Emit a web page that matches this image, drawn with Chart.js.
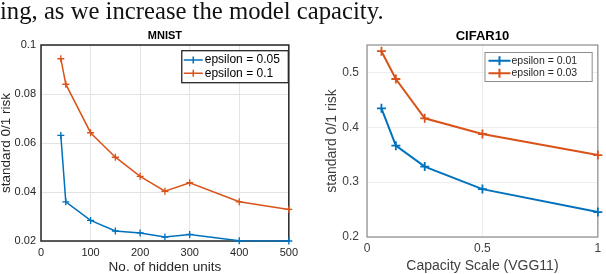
<!DOCTYPE html>
<html>
<head>
<meta charset="utf-8">
<script src="https://cdn.jsdelivr.net/npm/chart.js@4.4.1/dist/chart.umd.min.js"></script>
<style>
  html, body { margin: 0; padding: 0; background: #fff; }
  #page { position: relative; width: 606px; height: 274px; overflow: hidden; }
  #caption { position: absolute; left: 0; top: -1.5px; font-family: "Liberation Serif", "DejaVu Serif", serif;
             font-size: 24.7px; line-height: 24.7px; color: #111; white-space: nowrap; }
  canvas { position: absolute; top: 0; }
  #mnist { left: 0; }
  #cifar { left: 303px; }
</style>
</head>
<body>
<div id="page">
  <canvas id="mnist" width="303" height="274"></canvas>
  <canvas id="cifar" width="303" height="274"></canvas>
  <div id="caption">ing, as we increase the model capacity.</div>
</div>
<script>
// ---- MNIST panel ----
const mnistUnits = [40, 50, 100, 150, 200, 250, 300, 400, 500];
const mnistEps005 = [0.0631, 0.0360, 0.0284, 0.0241, 0.0233, 0.0216, 0.0227, 0.0201, 0.0200];
const mnistEps01 = [0.0944, 0.0840, 0.0642, 0.0542, 0.0464, 0.0403, 0.0438, 0.0360, 0.0329];
const mnistXTicks = [0, 100, 200, 300, 400, 500];
const mnistXLabels = ['0', '100', '200', '300', '400', '500'];
const mnistYTicks = [0.02, 0.04, 0.06, 0.08, 0.1];
const mnistYLabels = ['0.02', '0.04', '0.06', '0.08', '0.1'];

// ---- CIFAR10 panel ----
const cifarScale = [0.0625, 0.125, 0.25, 0.5, 1];
const cifarEps001 = [0.4345, 0.3665, 0.3284, 0.2873, 0.2455];
const cifarEps003 = [0.5387, 0.4880, 0.4164, 0.3878, 0.3494];
const cifarXTicks = [0, 0.5, 1];
const cifarXLabels = ['0', '0.5', '1'];
const cifarYTicks = [0.2, 0.3, 0.4, 0.5];
const cifarYLabels = ['0.2', '0.3', '0.4', '0.5'];

const BLUE = '#0072BD';
const ORANGE = '#D95319';

Chart.defaults.font.family = '"Liberation Sans", Arial, Helvetica, sans-serif';

// box around the plot area (matlab "box on"), under the lines
const frame = {
    id: 'frame',
    beforeDatasetsDraw(chart, args, opts) {
        const a = chart.chartArea, ctx = chart.ctx;
        ctx.save();
        ctx.strokeStyle = opts.color;
        ctx.lineWidth = opts.width;
        ctx.strokeRect(a.left, a.top, a.right - a.left, a.bottom - a.top);
        ctx.restore();
    }
};

// legend in a bordered box at the top right of the plot area
const boxLegend = {
    id: 'boxLegend',
    afterDatasetsDraw(chart, args, o) {
        const ctx = chart.ctx, area = chart.chartArea;
        const sets = chart.data.datasets;
        ctx.save();
        ctx.font = o.font;
        const textW = Math.max(...sets.map(d => ctx.measureText(d.label).width));
        const w = o.textX + textW + o.padRight;
        const h = o.padY * 2 + o.rowH * sets.length;
        const x0 = area.right - o.marginRight - w;
        const y0 = area.top + o.marginTop;
        ctx.fillStyle = '#fff';
        ctx.fillRect(x0, y0, w, h);
        ctx.strokeStyle = o.border;
        ctx.lineWidth = o.borderWidth;
        ctx.strokeRect(x0, y0, w, h);
        sets.forEach((d, i) => {
            const cy = y0 + o.padY + o.rowH * (i + 0.5);
            const cx = x0 + (o.lineFrom + o.lineTo) / 2;
            const r = d.pointRadius;
            ctx.strokeStyle = d.borderColor;
            ctx.lineWidth = d.borderWidth;
            ctx.beginPath();
            ctx.moveTo(x0 + o.lineFrom, cy);
            ctx.lineTo(x0 + o.lineTo, cy);
            ctx.moveTo(cx, cy - r);
            ctx.lineTo(cx, cy + r);
            ctx.stroke();
            ctx.fillStyle = o.color;
            ctx.textBaseline = 'middle';
            ctx.fillText(d.label, x0 + o.textX, cy);
        });
        ctx.restore();
    }
};

function series(label, xs, ys, color, lw, r) {
    return {
        label: label,
        data: xs.map((x, i) => ({ x: x, y: ys[i] })),
        borderColor: color,
        backgroundColor: color,
        borderWidth: lw,
        pointStyle: 'cross',
        pointRadius: r,
        pointBorderWidth: lw * 0.9,
        pointBorderColor: color,
        clip: false
    };
}

function fixedTicks(vals) {
    return scale => { scale.ticks = vals.map(v => ({ value: v })); };
}

// ================= MNIST =================
new Chart(document.getElementById('mnist'), {
    type: 'line',
    data: {
        datasets: [
            series('epsilon = 0.05', mnistUnits, mnistEps005, BLUE, 1.5, 3.5),
            series('epsilon = 0.1', mnistUnits, mnistEps01, ORANGE, 1.5, 3.5)
        ]
    },
    options: {
        responsive: false,
        animation: false,
        devicePixelRatio: 1,
        layout: { padding: { left: 0, right: 6, top: 0, bottom: 0 } },
        plugins: {
            legend: { display: false },
            tooltip: { enabled: false },
            frame: { color: '#262626', width: 1.5 },
            boxLegend: {
                font: '12px "Liberation Sans", Arial, sans-serif', color: '#000',
                border: '#262626', borderWidth: 1.3,
                marginRight: 0.5, marginTop: 5.7, padY: 2.7, rowH: 13.3,
                lineFrom: 2, lineTo: 21, textX: 23, padRight: 8.5
            }
        },
        scales: {
            x: {
                type: 'linear', min: 0, max: 500,
                afterBuildTicks: fixedTicks(mnistXTicks),
                afterFit: s => { s.height = 33; },
                grid: { color: '#e3e3e3', drawTicks: false },
                border: { display: false },
                ticks: { padding: 5, font: { size: 11 }, color: '#262626', maxRotation: 0, autoSkip: false,
                         callback: (v, i) => mnistXLabels[i] },
                title: { display: true, text: 'No. of hidden units', color: '#262626',
                         font: { size: 13.5, lineHeight: 1 }, padding: { top: 0, bottom: 0 } }
            },
            xTop: {
                type: 'linear', axis: 'x', position: 'top',
                afterFit: s => { s.height = 45; },
                grid: { display: false },
                border: { display: false },
                ticks: { display: false },
                title: { display: true, text: 'MNIST', color: '#000',
                         font: { size: 11, weight: 'bold', lineHeight: 1.2 }, padding: { top: 29.7, bottom: 0 } }
            },
            y: {
                type: 'linear', min: 0.02, max: 0.1,
                afterBuildTicks: fixedTicks(mnistYTicks),
                afterFit: s => { s.width = 41; },
                grid: { color: '#e3e3e3', drawTicks: false },
                border: { display: false },
                ticks: { padding: 5, font: { size: 11 }, color: '#262626', autoSkip: false,
                         callback: (v, i) => mnistYLabels[i] },
                title: { display: true, text: 'standard 0/1 risk', color: '#262626',
                         font: { size: 13.5, lineHeight: 1 }, padding: { top: 0, bottom: 0 } }
            }
        }
    },
    plugins: [frame, boxLegend]
});

// ================= CIFAR10 =================
new Chart(document.getElementById('cifar'), {
    type: 'line',
    data: {
        datasets: [
            series('epsilon = 0.01', cifarScale, cifarEps001, BLUE, 2, 4.5),
            series('epsilon = 0.03', cifarScale, cifarEps003, ORANGE, 2, 4.5)
        ]
    },
    options: {
        responsive: false,
        animation: false,
        devicePixelRatio: 1,
        layout: { padding: { left: 0, right: 7, top: 0, bottom: 0 } },
        plugins: {
            legend: { display: false },
            tooltip: { enabled: false },
            frame: { color: '#8c8c8c', width: 1.2 },
            boxLegend: {
                font: '10.5px "Liberation Sans", Arial, sans-serif', color: '#262626',
                border: '#8c8c8c', borderWidth: 1,
                marginRight: 5.7, marginTop: 7.5, padY: 2.2, rowH: 12.3,
                lineFrom: 3.5, lineTo: 25.5, textX: 26.5, padRight: 15
            }
        },
        scales: {
            x: {
                type: 'linear', min: 0, max: 1,
                afterBuildTicks: fixedTicks(cifarXTicks),
                afterFit: s => { s.height = 37; },
                grid: { color: '#ededed', drawTicks: false },
                border: { display: false },
                ticks: { padding: 4.8, font: { size: 12 }, color: '#404040', maxRotation: 0, autoSkip: false,
                         callback: (v, i) => cifarXLabels[i] },
                title: { display: true, text: 'Capacity Scale (VGG11)', color: '#404040',
                         font: { size: 14, lineHeight: 1 }, padding: { top: 0, bottom: 1 } }
            },
            xTop: {
                type: 'linear', axis: 'x', position: 'top',
                afterFit: s => { s.height = 45; },
                grid: { display: false },
                border: { display: false },
                ticks: { display: false },
                title: { display: true, text: 'CIFAR10', color: '#000',
                         font: { size: 13, weight: 'bold', lineHeight: 1.2 }, padding: { top: 28.6, bottom: 0 } }
            },
            y: {
                type: 'linear', min: 0.2, max: 0.55,
                afterBuildTicks: fixedTicks(cifarYTicks),
                afterFit: s => { s.width = 64; },
                grid: { color: '#ededed', drawTicks: false },
                border: { display: false },
                ticks: { padding: 8, font: { size: 12 }, color: '#404040', autoSkip: false,
                         callback: (v, i) => cifarYLabels[i] },
                title: { display: true, text: 'standard 0/1 risk', color: '#404040',
                         font: { size: 14, lineHeight: 1 }, padding: { top: 22, bottom: 0 } }
            }
        }
    },
    plugins: [frame, boxLegend]
});
</script>
</body>
</html>
